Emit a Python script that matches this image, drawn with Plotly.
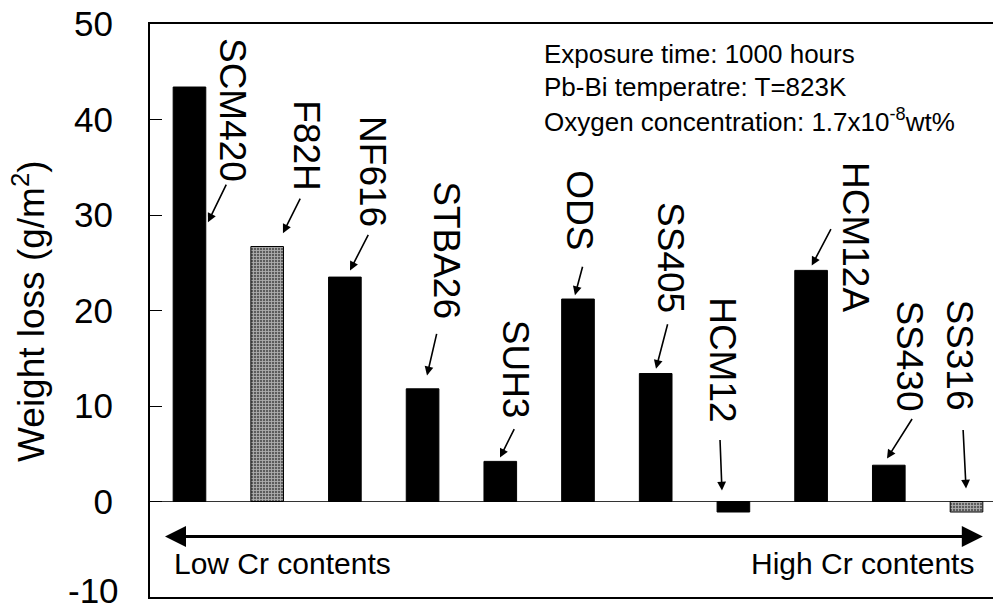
import plotly.graph_objects as go

# Weight loss of steels after 1000 h in Pb-Bi at 823 K
materials = ["SCM420", "F82H", "NF616", "STBA26", "SUH3", "ODS",
             "SS405", "HCM12", "HCM12A", "SS430", "SS316"]
weight_loss = [43.4, 26.7, 23.5, 11.8, 4.2, 21.2, 13.4, -1.1, 24.2, 3.8, -1.1]
y_min, y_max = -10, 50
y_ticks = [0, 10, 20, 30, 40, 50]

# materials drawn with a mesh fill instead of solid black
meshed = {"F82H", "SS316"}

FONT = "Liberation Sans, Arial, Helvetica, sans-serif"

# label placement (data units): text centre x/y, arrow head x/y, tail offset in px
label_layout = [
    (0.547, 41.0, 0.238, 29.25, 19, -39),
    (1.512, 37.3, 1.203, 28.1, 18, -36),
    (2.361, 34.5, 2.066, 24.2, 19, -37),
    (3.316, 26.3, 3.057, 13.2, 10, -43),
    (4.189, 13.8, 3.996, 4.6, 15, -30),
    (5.026, 30.5, 4.961, 21.6, 8, -30),
    (6.183, 25.5, 6.004, 13.9, 12, -46),
    (6.866, 14.8, 6.853, 1.15, -2, -52),
    (8.565, 27.7, 8.008, 24.7, 20, -38),
    (9.273, 15.3, 8.977, 4.5, 26, -41),
    (9.916, 15.3, 9.994, 1.36, -3, -60),
]

colors = ["#5c5c5c" if m in meshed else "black" for m in materials]
shapes = ["+" if m in meshed else "" for m in materials]

fig = go.Figure(go.Bar(
    x=materials, y=weight_loss, width=0.42,
    marker=dict(color=colors, line=dict(color="black", width=1),
                pattern=dict(shape=shapes, fgcolor="#000000", size=3,
                             solidity=0.5, fillmode="overlay")),
))

ann = []
for name, (tx, ty, hx, hy, dx, dy) in zip(materials, label_layout):
    ann.append(dict(x=tx, y=ty, xref="x", yref="y", text=name, textangle=90,
                    showarrow=False, xanchor="center", yanchor="middle",
                    font=dict(family=FONT, size=37, color="black")))
    ann.append(dict(x=hx, y=hy, xref="x", yref="y", text="", showarrow=True,
                    ax=dx, ay=dy, arrowhead=2, arrowsize=1.1, arrowwidth=1.6,
                    arrowcolor="black", standoff=0))

# double-headed Cr content arrow (two halves overlapping in the middle)
for end, tail in ((-0.315, 5.3), (10.21, 4.6)):
    ann.append(dict(x=end, y=-3.67, xref="x", yref="y", text="", showarrow=True,
                    axref="x", ayref="y", ax=tail, ay=-3.67, arrowhead=2,
                    arrowsize=1.4, arrowwidth=3, arrowcolor="black", standoff=0))
ann.append(dict(x=0.026, y=-6.5, xref="paper", yref="y", text="Low Cr contents",
                showarrow=False, xanchor="left", yanchor="middle",
                font=dict(family=FONT, size=30, color="black")))
ann.append(dict(x=0.98, y=-6.5, xref="paper", yref="y", text="High Cr contents",
                showarrow=False, xanchor="right", yanchor="middle",
                font=dict(family=FONT, size=30, color="black")))

# lowest axis value, kept inside the figure's bottom edge
ann.append(dict(x=-0.0356, y=-0.0244, xref="paper", yref="paper",
                text=f"{y_min}", showarrow=False, xanchor="right",
                yanchor="bottom", borderpad=0,
                font=dict(family=FONT, size=35, color="black")))

# experimental conditions
conditions = ["Exposure time: 1000 hours",
              "Pb-Bi temperatre: T=823K",
              "Oxygen concentration: 1.7x10<sup>-8</sup>wt%"]
for txt, py in zip(conditions, (0.948, 0.890, 0.831)):
    ann.append(dict(x=0.465, y=py, xref="paper", yref="paper", text=txt,
                    showarrow=False, xanchor="left", yanchor="middle",
                    font=dict(family=FONT, size=26, color="black")))

# y-axis title
ann.append(dict(x=-0.143, y=0.5, xref="paper", yref="paper",
                text="Weight loss (g/m<sup>2</sup>)", textangle=-90,
                showarrow=False, xanchor="center", yanchor="middle",
                font=dict(family=FONT, size=37, color="black")))

fig.update_layout(
    width=994, height=611,
    margin=dict(l=150, r=1, t=24, b=14),
    plot_bgcolor="white", paper_bgcolor="white",
    showlegend=False,
    annotations=ann,
    xaxis=dict(type="category", range=[-0.508, 10.341], showticklabels=False,
               ticks="", showline=True, mirror=True, linewidth=2,
               linecolor="black", showgrid=False, zeroline=False),
    yaxis=dict(range=[y_min, y_max], tickvals=y_ticks, ticks="inside",
               ticklen=12, tickwidth=1, tickcolor="black", showline=True,
               linewidth=2, linecolor="black", showgrid=False, zeroline=True,
               zerolinecolor="#333", zerolinewidth=1,
               tickfont=dict(family=FONT, size=35, color="black"),
               ticklabelstandoff=28),
)

fig.write_html("out.html")
